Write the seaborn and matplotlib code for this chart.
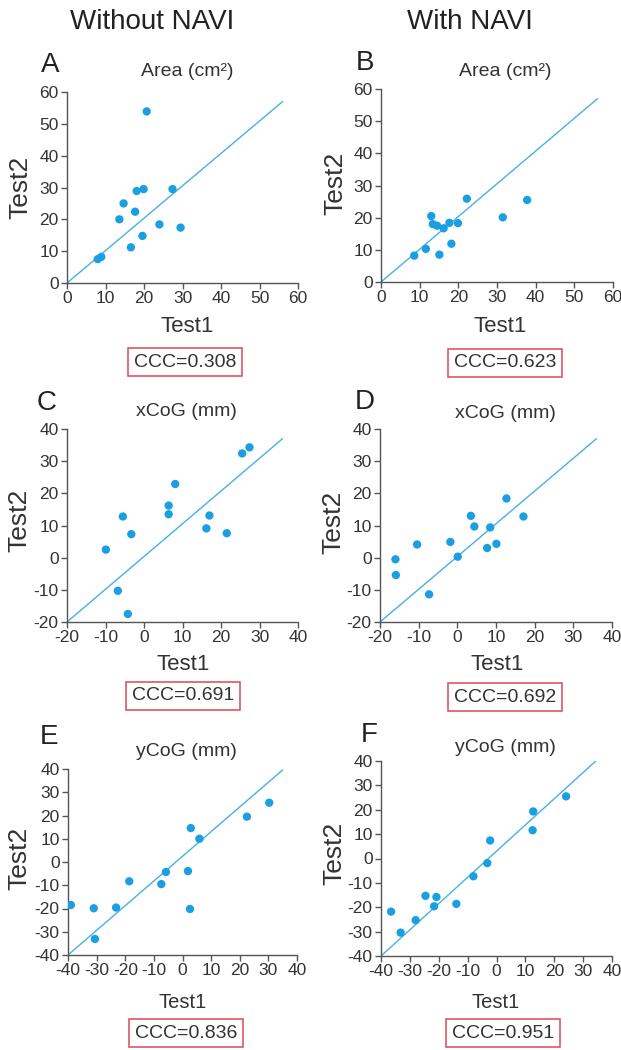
import numpy as np
import pandas as pd
import matplotlib
matplotlib.use("Agg")
import matplotlib.pyplot as plt
import seaborn as sns

sns.set_style("ticks")
plt.rcParams['font.family'] = ['Liberation Sans Narrow', 'Liberation Sans', 'DejaVu Sans']
plt.rcParams['axes.unicode_minus'] = False

# values
area_wo_x = [20.7, 18.1, 19.9, 27.4, 14.7, 17.7, 13.6, 24.0, 29.5, 19.6, 16.6, 8.0, 8.9]
area_wo_y = [53.9, 28.9, 29.5, 29.5, 25.0, 22.4, 20.0, 18.4, 17.4, 14.8, 11.2, 7.5, 8.2]
area_w_x = [22.2, 37.8, 31.5, 13.0, 13.4, 14.5, 16.2, 17.7, 19.9, 18.2, 11.6, 15.1, 8.6]
area_w_y = [25.9, 25.5, 20.1, 20.5, 18.0, 17.5, 16.7, 18.4, 18.3, 11.9, 10.3, 8.5, 8.2]
xcog_wo_x = [27.4, 25.5, 8.1, 6.4, 6.4, 17.0, 16.2, 21.5, -5.5, -3.3, -9.9, -6.8, -4.2]
xcog_wo_y = [34.3, 32.4, 22.9, 16.2, 13.5, 13.1, 9.1, 7.6, 12.8, 7.3, 2.5, -10.3, -17.5]
xcog_w_x = [12.7, 17.1, 3.5, 4.4, 8.5, 7.7, 10.1, -1.8, 0.1, -10.4, -16.0, -15.9, -7.3]
xcog_w_y = [18.4, 12.8, 13.0, 9.7, 9.4, 3.0, 4.3, 4.9, 0.3, 4.1, -0.5, -5.4, -11.4]
ycog_wo_x = [30.3, 22.5, 2.9, 5.9, -5.8, 1.9, -7.4, -18.6, -39.0, -31.0, -23.2, 2.6, -30.6]
ycog_wo_y = [25.5, 19.5, 14.6, 10.0, -4.3, -3.9, -9.5, -8.3, -18.5, -19.9, -19.6, -20.2, -33.1]
ycog_w_x = [24.1, 12.7, 12.5, -2.2, -3.2, -8.0, -13.9, -24.6, -20.8, -21.6, -28.0, -36.5, -33.2]
ycog_w_y = [25.5, 19.3, 11.6, 7.4, -1.9, -7.3, -18.6, -15.3, -15.8, -19.6, -25.3, -21.8, -30.4]

# reference lines (start / end as drawn)
area_line_x = [0, 56]
area_line_y = [0, 57]
xcog_line_x = [-20, 36]
xcog_line_y = [-20, 37]
ycog_wo_line_x = [-40, 35]
ycog_wo_line_y = [-40, 39.6]
ycog_w_line_x = [-40, 34.4]
ycog_w_line_y = [-40, 40]

letters = ['A', 'B', 'C', 'D', 'E', 'F']
titles = ['Area (cm²)', 'Area (cm²)', 'xCoG (mm)', 'xCoG (mm)', 'yCoG (mm)', 'yCoG (mm)']
ccc = ['0.308', '0.623', '0.691', '0.692', '0.836', '0.951']
headers = ['Without NAVI', 'With NAVI']

W, H = 621, 1050
fig = plt.figure(figsize=(W / 100, H / 100), dpi=100)


def px(x, y):
    return x / W, 1 - y / H


panels = [
    # axes box (l, r, t, b) and text centres in pixels
    dict(x=area_wo_x, y=area_wo_y, lx=area_line_x, ly=area_line_y, lim=(0, 60), box=(67, 298, 92, 283),
         let=(50, 65), tit=(187, 72), xl=(187, 327), yl=(20, 187), cc=(185, 362)),
    dict(x=area_w_x, y=area_w_y, lx=area_line_x, ly=area_line_y, lim=(0, 60), box=(381, 613, 89, 282),
         let=(365, 63), tit=(505, 72), xl=(500, 326), yl=(335, 183), cc=(505, 363)),
    dict(x=xcog_wo_x, y=xcog_wo_y, lx=xcog_line_x, ly=xcog_line_y, lim=(-20, 40), box=(67, 298, 429, 622),
         let=(47, 403), tit=(186, 412), xl=(183, 665), yl=(19, 520), cc=(183, 696)),
    dict(x=xcog_w_x, y=xcog_w_y, lx=xcog_line_x, ly=xcog_line_y, lim=(-20, 40), box=(380, 612, 429, 622),
         let=(365, 402), tit=(505, 413), xl=(497, 665), yl=(333, 522), cc=(505, 697)),
    dict(x=ycog_wo_x, y=ycog_wo_y, lx=ycog_wo_line_x, ly=ycog_wo_line_y, lim=(-40, 40), box=(68, 297, 769, 955),
         let=(49, 737), tit=(186, 752), xl=(183, 1002), yl=(19, 858), cc=(186, 1033)),
    dict(x=ycog_w_x, y=ycog_w_y, lx=ycog_w_line_x, ly=ycog_w_line_y, lim=(-40, 40), box=(381, 612, 761, 956),
         let=(369, 735), tit=(505, 747), xl=(496, 1002), yl=(334, 853), cc=(503, 1033)),
]

txt_col = '#333333'
dot_col = '#1a9fe3'
line_col = '#45b1e4'

for i, p in enumerate(panels):
    l, r, t, b = p['box']
    ax = fig.add_axes([l / W, 1 - b / H, (r - l) / W, (b - t) / H])
    df = pd.DataFrame({'Test1': p['x'], 'Test2': p['y']})
    ldf = pd.DataFrame({'x': p['lx'], 'y': p['ly']})
    sns.lineplot(data=ldf, x='x', y='y', ax=ax, color=line_col, linewidth=1.0)
    sns.scatterplot(data=df, x='Test1', y='Test2', ax=ax, color=dot_col, s=36, edgecolor='none', zorder=3)
    lo, hi = p['lim']
    ax.set_xlim(lo, hi)
    ax.set_ylim(lo, hi)
    ax.set_xticks(np.arange(lo, hi + 1, 10))
    ax.set_yticks(np.arange(lo, hi + 1, 10))
    ax.set_xlabel('')
    ax.set_ylabel('')
    sns.despine(ax=ax)
    for s in ['left', 'bottom']:
        ax.spines[s].set_color('#555555')
        ax.spines[s].set_linewidth(1.0)
    ax.tick_params(direction='out', length=4, width=1, colors='#555555', labelcolor=txt_col,
                   labelsize=12.5, pad=2)
    ax.patch.set_alpha(0)

    fig.text(*px(*p['let']), letters[i], fontsize=20, color='#222222', ha='center', va='center')
    fig.text(*px(*p['tit']), titles[i], fontsize=14, color=txt_col, ha='center', va='center')
    fig.text(*px(*p['xl']), 'Test1', fontsize=16 if i < 4 else 14.5, color=txt_col, ha='center', va='center')
    fig.text(*px(*p['yl']), 'Test2', fontsize=19, color=txt_col, ha='center', va='center', rotation=90)
    fig.text(*px(*p['cc']), 'CCC=' + ccc[i], fontsize=14, color=txt_col, ha='center', va='center',
             bbox=dict(boxstyle='square,pad=0.3', facecolor='white', edgecolor='#e05565', linewidth=1.2))

fig.text(*px(152, 22), headers[0], fontsize=20, color='#222222', ha='center', va='center')
fig.text(*px(470, 22), headers[1], fontsize=20, color='#222222', ha='center', va='center')

fig.savefig('out.png', dpi=100)
